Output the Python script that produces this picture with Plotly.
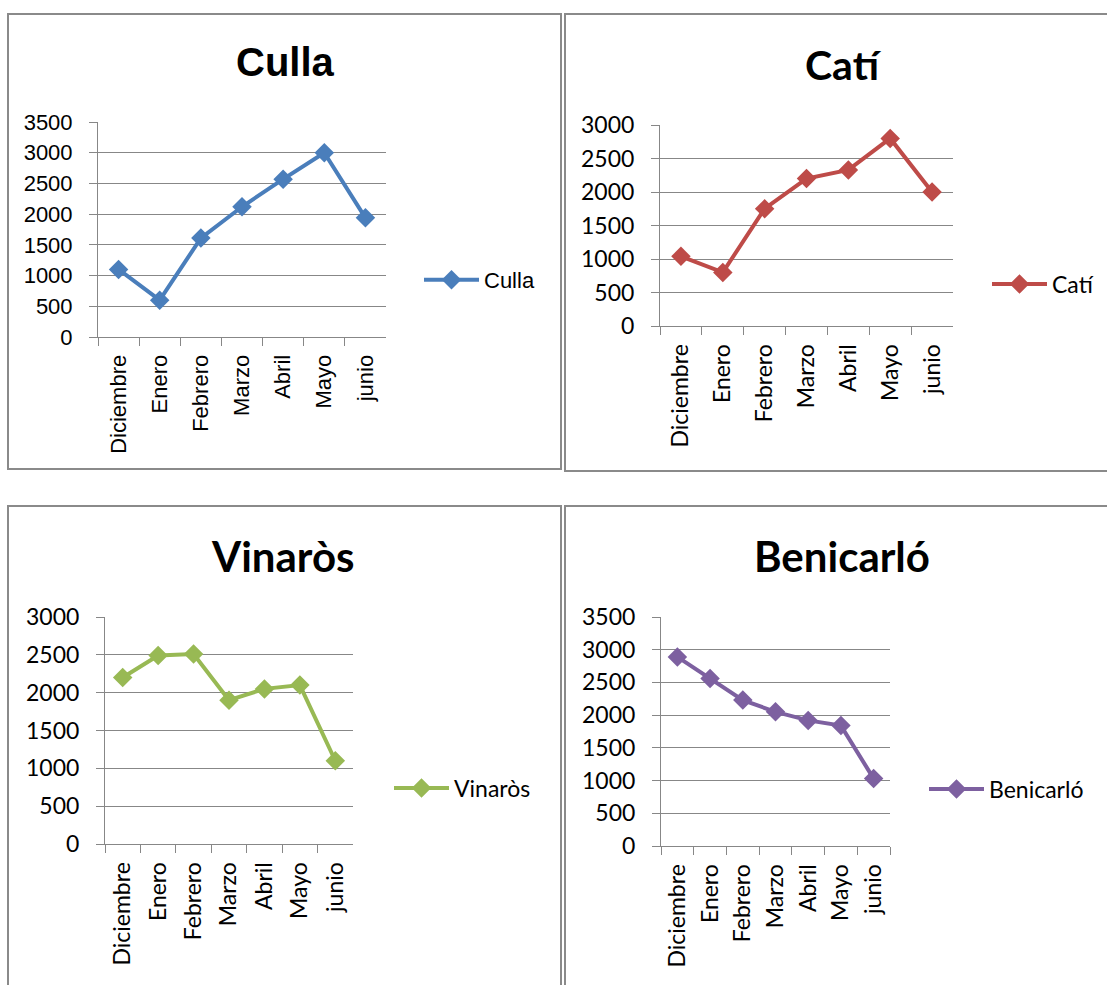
import plotly.graph_objects as go

W, H = 1107, 985

months = ["Diciembre", "Enero", "Febrero", "Marzo", "Abril", "Mayo", "junio"]
culla = [1100, 600, 1610, 2120, 2570, 3000, 1940]
cati = [1040, 800, 1750, 2200, 2330, 2800, 2000]
vinaros = [2200, 2490, 2510, 1900, 2050, 2100, 1100]
benicarlo = [2890, 2560, 2230, 2050, 1920, 1840, 1030]

names = ["Culla", "Catí", "Vinaròs", "Benicarló"]
colors = ["#4A7EBB", "#BE4B48", "#98B954", "#7D60A0"]
series = [culla, cati, vinaros, benicarlo]
ymax = [3500, 3000, 3000, 3500]

NARROW = "Liberation Sans Narrow, Arial Narrow, Liberation Sans, Arial, sans-serif"
CAL = "Lato, Carlito, Calibri, sans-serif"
fonts = [NARROW, CAL, CAL, CAL]
tick_sizes = [22, 23, 23, 23]
title_sizes = [40, 41, 42, 42]

# plot areas in pixels: x0, x1, ytop, ybottom
areas = [(98, 386, 122, 337), (660, 953, 125, 326), (105, 353, 617, 844), (661, 890, 617, 846)]
titles_pos = [(285, 62), (843, 64), (283, 556), (842, 556)]
legends_pos = [(419, 280), (987, 284), (389, 788), (924, 789)]
boxes = [(8, 561, 14, 469), (565, 1125, 14, 471), (8, 561, 506, 1000), (565, 1125, 506, 1000)]

def fx(p):
    return p / W

def fy(p):
    return 1 - p / H

fig = go.Figure()
grid = "#878787"

for i in range(4):
    n = "" if i == 0 else str(i + 1)
    x0, x1, yt, yb = areas[i]
    fig.add_trace(go.Scatter(
        x=months, y=series[i], name=names[i], mode="lines+markers",
        line=dict(color=colors[i], width=4),
        marker=dict(symbol="diamond", size=15, color=colors[i]),
        xaxis="x" + n, yaxis="y" + n,
        legend="legend" + n,
    ))
    fig.update_layout({
        "xaxis" + n: dict(
            domain=[fx(x0), fx(x1)], anchor="y" + n, type="category",
            range=[-0.5, 6.5], tickson="boundaries", ticks="outside", ticklen=8,
            tickcolor=grid, tickwidth=1, showline=True, linecolor=grid, linewidth=1,
            showgrid=False, tickangle=-90,
            tickfont=dict(family=fonts[i], size=tick_sizes[i], color="black"),
            ticklabelstandoff=8, zeroline=False,
        ),
        "yaxis" + n: dict(
            domain=[fy(yb), fy(yt)], anchor="x" + n, range=[0, ymax[i]],
            dtick=500, tick0=0, ticks="outside", ticklen=8, tickcolor=grid, tickwidth=1,
            showline=True, linecolor=grid, linewidth=1, showgrid=True,
            gridcolor=grid, gridwidth=1, zeroline=False,
            tickfont=dict(family=fonts[i], size=tick_sizes[i], color="black"),
            ticklabelstandoff=12,
        ),
        "legend" + n: dict(
            x=fx(legends_pos[i][0]), y=fy(legends_pos[i][1]), xanchor="left", yanchor="middle",
            xref="paper", yref="paper", bgcolor="rgba(0,0,0,0)", itemwidth=55,
            font=dict(family=fonts[i], size=tick_sizes[i], color="black"),
        ),
    })
    fig.add_annotation(
        x=fx(titles_pos[i][0]), y=fy(titles_pos[i][1]), xref="paper", yref="paper",
        text="<b>" + names[i] + "</b>", showarrow=False, xanchor="center", yanchor="middle",
        font=dict(family=fonts[i], size=title_sizes[i], color="black"),
    )
    bx0, bx1, by0, by1 = boxes[i]
    fig.add_shape(type="rect", xref="paper", yref="paper",
                  x0=fx(bx0), x1=fx(bx1), y0=fy(by1), y1=fy(by0),
                  line=dict(color="#8a8a8a", width=2), layer="below")

fig.update_layout(
    width=W, height=H, margin=dict(l=0, r=0, t=0, b=0, autoexpand=False),
    paper_bgcolor="white", plot_bgcolor="white", showlegend=True,
)

fig.write_html("out.html", config={"displayModeBar": False},
               post_script="document.body.style.margin='0';")
